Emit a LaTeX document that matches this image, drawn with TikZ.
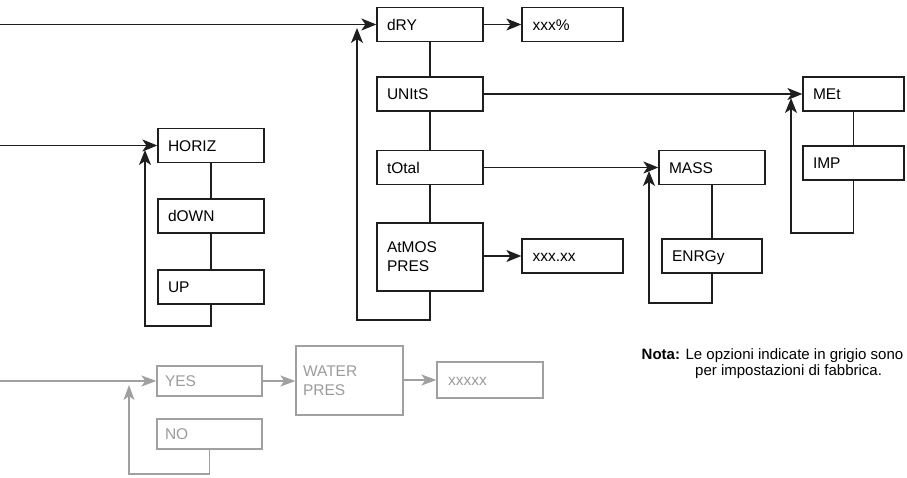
\documentclass[tikz,border=0pt]{standalone}
\usepackage{fontspec}
\setmainfont{Liberation Sans}
\usetikzlibrary{arrows.meta}
\definecolor{ink}{RGB}{30,30,30}
\definecolor{gry}{RGB}{160,160,160}
\definecolor{grytext}{RGB}{155,155,155}
\tikzset{
  bx/.style={draw=ink, line width=1.3pt, minimum height=34pt, inner xsep=10pt, inner ysep=0pt,
    align=left, text=black, font=\fontsize{15.5}{19}\selectfont, text height=11.1pt, text depth=0pt},
  bx2/.style={draw=ink, line width=1.3pt, inner xsep=10pt, inner ysep=0pt,
    align=left, text=black, font=\fontsize{15.5}{19}\selectfont},
  gbx/.style={draw=gry, line width=1.3pt, minimum height=30pt, inner xsep=8pt, inner ysep=0pt,
    align=left, text=grytext, font=\fontsize{15.5}{19}\selectfont, text height=11.1pt, text depth=0pt},
  ln/.style={draw=ink, line width=1.3pt},
  arr/.style={ln, -{Stealth[length=15pt, width=12pt, inset=4pt]}},
  gln/.style={draw=gry, line width=1.3pt},
  garr/.style={gln, -{Stealth[length=15pt, width=11pt, inset=4pt]}},
  notefont/.style={inner sep=0pt, anchor=base west, font=\fontsize{15}{18}\selectfont, text=black}
}
\begin{document}
\begin{tikzpicture}[x=1pt, y=-1pt]
\clip (0,0) rectangle (907,478);
% main column
\node[bx, text width=86pt] (dry) at (430,24.5) {dRY};
\node[bx, text width=80pt, inner xsep=10.5pt] (xxxp) at (572.5,24.5) {xxx\%};
\node[bx, text width=86pt] (units) at (430,94) {UNItS};
\node[bx, text width=86pt] (total) at (430,167.5) {tOtal};
\node[bx2, text width=86pt, minimum height=68pt] (atmos) at (430,257) {AtMOS\\PRES};
\node[bx, text width=80pt, inner xsep=10.5pt] (xxxx) at (572.5,256) {xxx.xx};
% units
\node[bx, text width=81pt] (met) at (853.5,94) {MEt};
\node[bx, text width=81pt] (imp) at (853.5,163) {IMP};
% total
\node[bx, text width=86pt] (mass) at (712,167.5) {MASS};
\node[bx, text width=80pt] (enrg) at (712,256) {ENRGy};
% horiz
\node[bx, text width=86pt] (horiz) at (211,145.5) {HORIZ};
\node[bx, text width=86pt] (down) at (211,216) {dOWN};
\node[bx, text width=86pt] (up) at (211,287) {UP};
% gray group
\node[gbx, text width=89pt] (yes) at (209.5,381) {YES};
\node[gbx, text width=89pt] (no) at (209.5,434) {NO};
\node[draw=gry, line width=1.3pt, minimum height=69pt, inner xsep=7pt, inner ysep=0pt, align=left,
  text=grytext, font=\fontsize{15.5}{19}\selectfont, text width=93pt] (water) at (349.5,380.5) {WATER\\PRES};
\node[gbx, text width=84pt, minimum height=36pt, inner xsep=11pt] (xxxxx) at (490,380) {xxxxx};

% coordinates for free ends and loops
\coordinate (inA) at (0,24.5);
\coordinate (inB) at (0,145.5);
\coordinate (inC) at (0,381);
\coordinate (loopA) at (357,320);
\coordinate (tipA) at (357,28);
\coordinate (loopH) at (145,326);
\coordinate (tipH) at (145,150);
\coordinate (loopM) at (791,233);
\coordinate (tipM) at (791,98);
\coordinate (loopS) at (649,303);
\coordinate (tipS) at (649,171);
\coordinate (loopY) at (129,474);
\coordinate (tipY) at (129,385);

% connectors
\draw[arr] (inA) -- (dry.west);
\draw[arr] (dry.east) -- (xxxp.west);
\draw[ln] (dry.south) -- (units.north);
\draw[ln] (units.south) -- (total.north);
\draw[ln] (total.south) -- (atmos.north);
\draw[arr] (atmos.east |- xxxx.west) -- (xxxx.west);
\draw[arr] (atmos.south) |- (loopA) -- (tipA);
\draw[arr] (units.east) -- (met.west);
\draw[ln] (met.south) -- (imp.north);
\draw[arr] (imp.south) |- (loopM) -- (tipM);
\draw[arr] (total.east) -- (mass.west);
\draw[ln] (mass.south) -- (enrg.north);
\draw[arr] (enrg.south) |- (loopS) -- (tipS);
\draw[arr] (inB) -- (horiz.west);
\draw[ln] (horiz.south) -- (down.north);
\draw[ln] (down.south) -- (up.north);
\draw[arr] (up.south) |- (loopH) -- (tipH);
% gray connectors
\draw[garr] (inC) -- (yes.west);
\draw[garr] (yes.east) -- (water.west |- yes.east);
\draw[garr] (water.east |- xxxxx.west) -- (xxxxx.west);
\draw[garr] (no.south) |- (loopY) -- (tipY);

% note
\node[notefont] (nota) at (641.5,359) {\textbf{Nota:} Le opzioni indicate in grigio sono};
\node[notefont] (nota2) at (695,375) {per impostazioni di fabbrica.};
\end{tikzpicture}
\end{document}
